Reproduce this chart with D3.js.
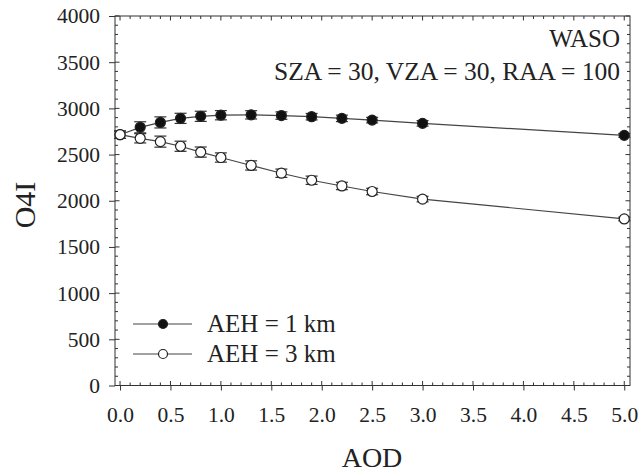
<!DOCTYPE html>
<html>
<head>
  <meta charset="UTF-8">
  <style>
    body { margin: 0; background: #fff; }
  </style>
</head>
<body>
<svg></svg>
<script src="https://d3js.org/d3.v7.min.js"></script>
<script>
let width = 640, height = 474;
let serif = "'Liberation Serif', 'Times New Roman', 'DejaVu Serif', serif";

// data
let aod = [0, 0.2, 0.4, 0.6, 0.8, 1.0, 1.3, 1.6, 1.9, 2.2, 2.5, 3.0, 5.0];
let o4i1km = [2715, 2795, 2848, 2892, 2914, 2926, 2930, 2922, 2910, 2892, 2873, 2838, 2708];
let err1km = [40, 60, 60, 55, 55, 50, 45, 40, 35, 35, 30, 30, 20];
let o4i3km = [2715, 2676, 2640, 2590, 2527, 2468, 2382, 2298, 2222, 2160, 2100, 2018, 1803];
let err3km = [40, 50, 60, 55, 55, 50, 50, 45, 45, 40, 35, 30, 20];
let xTicks = [0, 0.5, 1, 1.5, 2, 2.5, 3, 3.5, 4, 4.5, 5];
let yTicks = [0, 500, 1000, 1500, 2000, 2500, 3000, 3500, 4000];
let legendLabels = ["AEH = 1 km", "AEH = 3 km"];

let margin = { left: 115, right: 10, top: 16, bottom: 88.5 };
let x = d3.scaleLinear().domain([-0.05, 5.057]).range([margin.left, width - margin.right]);
let y = d3.scaleLinear().domain([0, 4000]).range([height - margin.bottom, margin.top]);

let svg = d3.select("svg").attr("width", width).attr("height", height)
  .attr("font-family", serif);

let x0 = x.range()[0], x1 = x.range()[1], y0 = y.range()[0], y1 = y.range()[1];

// frame
svg.append("rect")
  .attr("x", x0).attr("y", y1)
  .attr("width", x1 - x0).attr("height", y0 - y1)
  .attr("fill", "none").attr("stroke", "#333").attr("stroke-width", 1);

// inner ticks on all four sides (minor every 0.1 / 100)
let minorX = d3.range(0, 50.5, 1).map(d => d / 10);
let minorY = d3.range(0, 40.5, 1).map(d => d * 100);
let ticks = svg.append("g").attr("stroke", "#333").attr("stroke-width", 1);
minorX.forEach(v => {
  let len = (Math.round(v * 10) % 5 === 0) ? 4.5 : 3;
  ticks.append("line").attr("x1", x(v)).attr("x2", x(v)).attr("y1", y0).attr("y2", y0 - len);
  ticks.append("line").attr("x1", x(v)).attr("x2", x(v)).attr("y1", y1).attr("y2", y1 + len);
});
minorY.forEach(v => {
  let len = (v % 500 === 0) ? 4.5 : 3;
  ticks.append("line").attr("x1", x0).attr("x2", x0 + len).attr("y1", y(v)).attr("y2", y(v));
  ticks.append("line").attr("x1", x1).attr("x2", x1 - len).attr("y1", y(v)).attr("y2", y(v));
});

// outer major ticks and labels via axes
let xAxis = svg.append("g")
  .attr("transform", `translate(0,${y0})`)
  .call(d3.axisBottom(x).tickValues(xTicks).tickSize(5).tickPadding(16).tickFormat(d3.format(".1f")));
let yAxis = svg.append("g")
  .attr("transform", `translate(${x0},0)`)
  .call(d3.axisLeft(y).tickValues(yTicks).tickSize(6).tickPadding(9).tickFormat(d => d));
[xAxis, yAxis].forEach(a => {
  a.attr("font-family", serif).attr("font-size", 21.5);
  a.select(".domain").remove();
  a.selectAll("line").attr("stroke", "#333");
  a.selectAll("text").attr("fill", "#222");
});

// axis titles
svg.append("text")
  .attr("x", 372).attr("y", 467)
  .attr("text-anchor", "middle")
  .attr("font-size", 28).attr("fill", "#222")
  .text("AOD");
svg.append("text")
  .attr("transform", `translate(35,205) rotate(-90)`)
  .attr("text-anchor", "middle")
  .attr("font-size", 30).attr("fill", "#222")
  .text("O4I");

// annotation
svg.append("text")
  .attr("x", 620).attr("y", 47)
  .attr("text-anchor", "end").attr("font-size", 25).attr("fill", "#222")
  .text("WASO");
svg.append("text")
  .attr("x", 620).attr("y", 80)
  .attr("text-anchor", "end").attr("font-size", 25.5).attr("fill", "#222")
  .text("SZA = 30, VZA = 30, RAA = 100");

let series = [
  { vals: o4i1km, errs: err1km, fill: "#111" },
  { vals: o4i3km, errs: err3km, fill: "#fff" }
];

let line = d3.line().x((d, i) => x(aod[i])).y(d => y(d));

series.forEach(s => {
  let g = svg.append("g");
  g.append("path")
    .attr("d", line(s.vals))
    .attr("fill", "none").attr("stroke", "#444").attr("stroke-width", 1.2);

  // error bars
  let eb = g.append("g").attr("stroke", "#333").attr("stroke-width", 1.2);
  s.vals.forEach((v, i) => {
    let cx = x(aod[i]);
    let top = y(v + s.errs[i]), bot = y(v - s.errs[i]);
    eb.append("line").attr("x1", cx).attr("x2", cx).attr("y1", top).attr("y2", bot);
    eb.append("line").attr("x1", cx - 6).attr("x2", cx + 6).attr("y1", top).attr("y2", top);
    eb.append("line").attr("x1", cx - 6).attr("x2", cx + 6).attr("y1", bot).attr("y2", bot);
  });

  g.selectAll("circle")
    .data(s.vals)
    .enter()
    .append("circle")
    .attr("cx", (d, i) => x(aod[i]))
    .attr("cy", d => y(d))
    .attr("r", 5)
    .attr("fill", s.fill)
    .attr("stroke", "#222").attr("stroke-width", 1.2);
});

// legend
let legend = svg.append("g");
series.forEach((s, i) => {
  let ly = 324 + i * 30;
  legend.append("line")
    .attr("x1", 133).attr("x2", 192).attr("y1", ly).attr("y2", ly)
    .attr("stroke", "#444").attr("stroke-width", 1.2);
  legend.append("circle")
    .attr("cx", 163).attr("cy", ly).attr("r", 4.5)
    .attr("fill", s.fill).attr("stroke", "#222").attr("stroke-width", 1.2);
  legend.append("text")
    .attr("x", 207).attr("y", ly + 8)
    .attr("font-size", 25).attr("fill", "#222")
    .text(legendLabels[i]);
});
</script>
</body>
</html>
